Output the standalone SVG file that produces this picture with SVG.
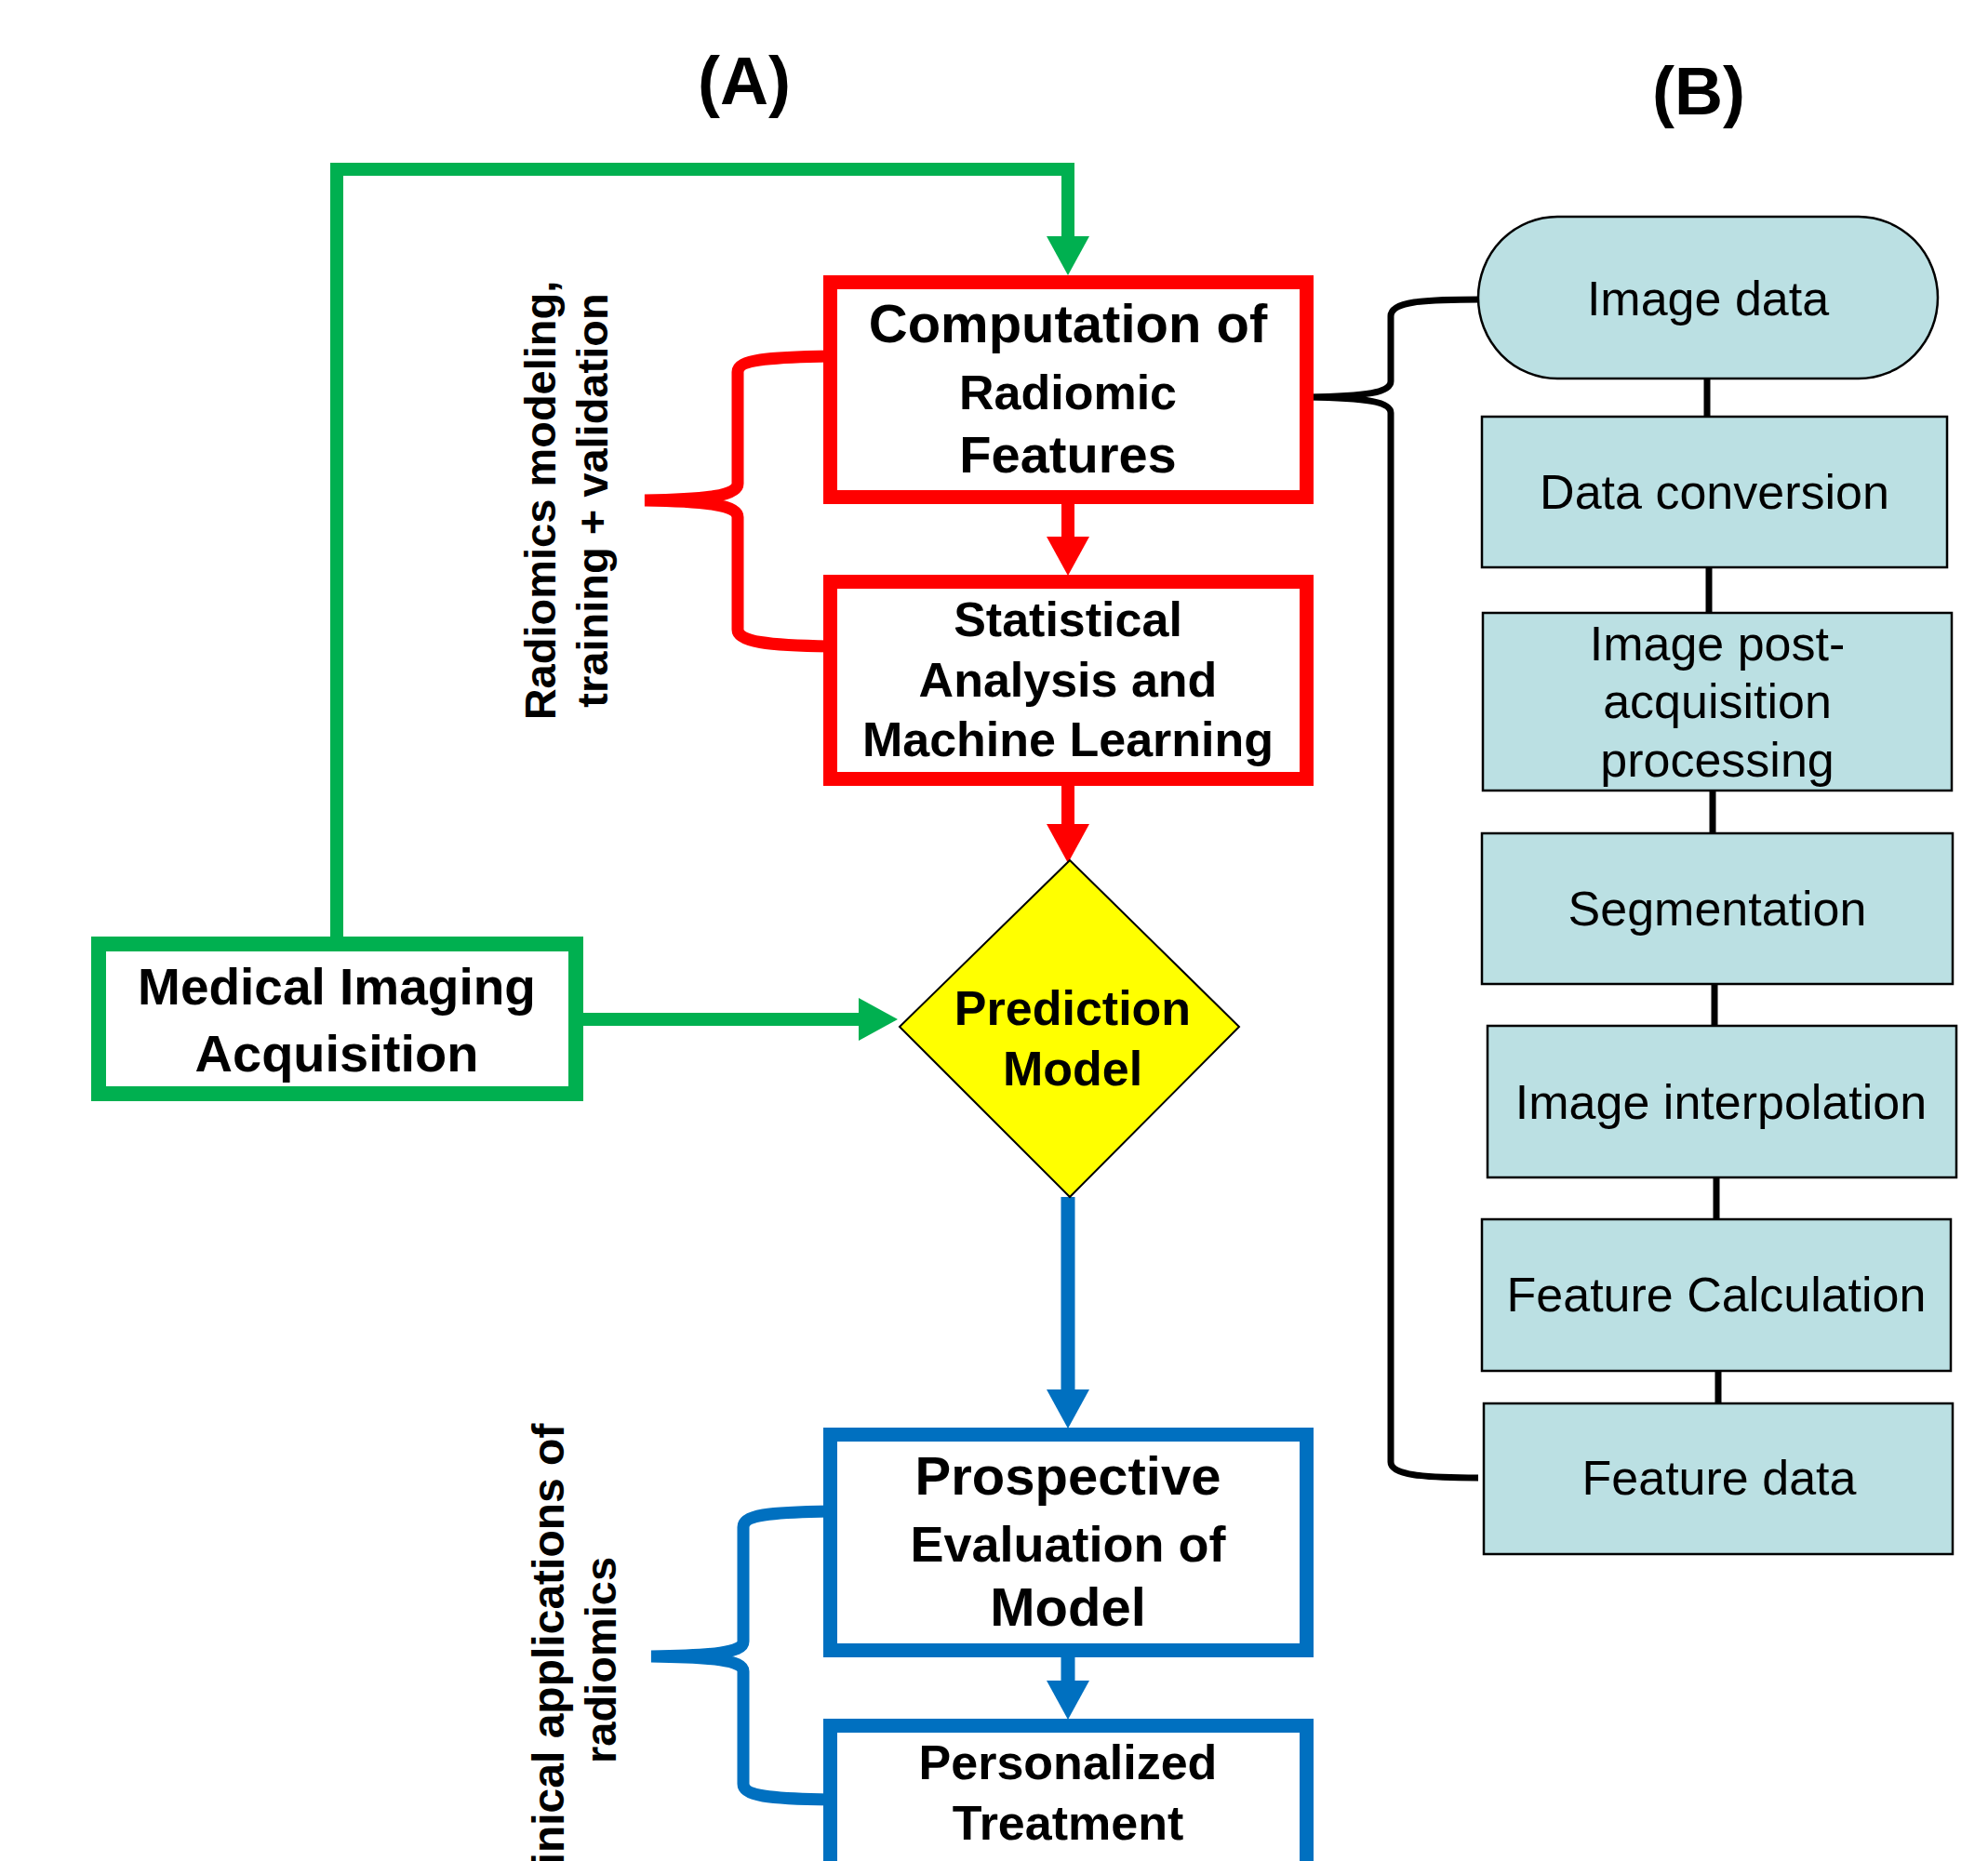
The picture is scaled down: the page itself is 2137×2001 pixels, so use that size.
<svg xmlns="http://www.w3.org/2000/svg" width="2137" height="2001" viewBox="0 0 2137 2001">
<style>
.bt{font-family:"Liberation Sans",Arial,sans-serif;font-weight:bold;text-anchor:middle;fill:#000}
.rt{font-family:"Liberation Sans",Arial,sans-serif;font-size:52px;text-anchor:middle;fill:#000}
.redbox{fill:#fff;stroke:#FF0000;stroke-width:15}
.bluebox{fill:#fff;stroke:#0070C0;stroke-width:15}
.greenbox{fill:#fff;stroke:#00B050;stroke-width:16}
.step{fill:#BBE0E3;stroke:#000;stroke-width:2.5}
.g{stroke:#00B050;stroke-width:14;fill:none;stroke-linejoin:miter}
.r{stroke:#FF0000;stroke-width:14;fill:none}
.b{stroke:#0070C0;stroke-width:15;fill:none}
.k{stroke:#000;stroke-width:7;fill:none}
.brace-r{stroke:#FF0000;stroke-width:13;fill:none;stroke-linecap:round}
.brace-b{stroke:#0070C0;stroke-width:13;fill:none;stroke-linecap:round}
</style>
<defs>
<marker id="ahg" markerUnits="userSpaceOnUse" viewBox="0 -25 50 50" refX="0" refY="0" markerWidth="50" markerHeight="50" orient="auto"><path d="M0,-23 L42,0 L0,23 Z" fill="#00B050"/></marker>
<marker id="ahr" markerUnits="userSpaceOnUse" viewBox="0 -25 50 50" refX="0" refY="0" markerWidth="50" markerHeight="50" orient="auto"><path d="M0,-23 L42,0 L0,23 Z" fill="#FF0000"/></marker>
<marker id="ahb" markerUnits="userSpaceOnUse" viewBox="0 -25 50 50" refX="0" refY="0" markerWidth="50" markerHeight="50" orient="auto"><path d="M0,-23 L42,0 L0,23 Z" fill="#0070C0"/></marker>
</defs>
<rect width="2137" height="2001" fill="#fff"/>

<g id="titles">
<text class="bt" x="800" y="112" font-size="72">(A)</text>
<text class="bt" x="1826" y="123" font-size="72">(B)</text>
</g>

<g id="connectors">
<path class="g" d="M362,1007 V182 H1148 V254" marker-end="url(#ahg)"/>
<path class="g" d="M627,1096 H923" marker-end="url(#ahg)"/>
<path class="r" d="M1148,542 V577" marker-end="url(#ahr)"/>
<path class="r" d="M1148,845 V886" marker-end="url(#ahr)"/>
<path class="b" d="M1148,1287 V1494" marker-end="url(#ahb)"/>
<path class="b" d="M1148,1782 V1807" marker-end="url(#ahb)"/>
<path class="brace-r" d="M892,383 C825,384 793,387 793,400 V520 C793,533 760,537 693,538 C760,539 793,543 793,556 V677 C793,690 825,694 892,695"/>
<path class="brace-b" d="M892,1625 C825,1626 799,1629 799,1642 V1765 C799,1777 766,1780 700,1781 C766,1782 799,1785 799,1797 V1918 C799,1931 825,1934 892,1935"/>
<path class="k" d="M1592,322 C1530,322 1495,324 1495,340 V410 C1495,422 1470,426 1405,427 C1470,428 1495,432 1495,444 V1572 C1495,1586 1530,1589 1589,1589"/>
<path class="k" d="M1835,407 V448"/>
<path class="k" d="M1837,610 V659"/>
<path class="k" d="M1841,850 V896"/>
<path class="k" d="M1843,1058 V1103"/>
<path class="k" d="M1845,1266 V1311"/>
<path class="k" d="M1847,1474 V1509"/>
</g>

<g id="labels">
<text class="bt" font-size="47" transform="translate(597,538) rotate(-90)">Radiomics modeling,</text>
<text class="bt" font-size="47" transform="translate(653,538) rotate(-90)">training + validation</text>
<text class="bt" font-size="48" transform="translate(606,1792) rotate(-90)">Clinical applications of</text>
<text class="bt" font-size="47" transform="translate(662,1785) rotate(-90)">radiomics</text>
</g>

<g id="computation">
<rect class="redbox" x="892.5" y="303.5" width="512" height="231"/>
<text class="bt" x="1148" y="368" font-size="58">Computation of</text>
<text class="bt" x="1148" y="440" font-size="52">Radiomic</text>
<text class="bt" x="1148" y="508" font-size="56">Features</text>
</g>

<g id="statistical">
<rect class="redbox" x="892.5" y="625.5" width="512" height="212"/>
<text class="bt" x="1148" y="684" font-size="52">Statistical</text>
<text class="bt" x="1148" y="749" font-size="52">Analysis and</text>
<text class="bt" x="1148" y="813" font-size="52">Machine Learning</text>
</g>

<g id="medical">
<rect class="greenbox" x="106" y="1015" width="513" height="161"/>
<text class="bt" x="362" y="1080" font-size="55">Medical Imaging</text>
<text class="bt" x="362" y="1152" font-size="56">Acquisition</text>
</g>

<g id="prediction">
<polygon points="1150,925 1332,1104 1150,1287 967,1104" fill="#FFFF00" stroke="#000" stroke-width="2"/>
<text class="bt" x="1153" y="1102" font-size="52">Prediction</text>
<text class="bt" x="1153" y="1167" font-size="52">Model</text>
</g>

<g id="prospective">
<rect class="bluebox" x="892.5" y="1542.5" width="512" height="232"/>
<text class="bt" x="1148" y="1607" font-size="58">Prospective</text>
<text class="bt" x="1148" y="1679" font-size="54">Evaluation of</text>
<text class="bt" x="1148" y="1748" font-size="58">Model</text>
</g>

<g id="personalized">
<rect class="bluebox" x="892.5" y="1855.5" width="512" height="240"/>
<text class="bt" x="1148" y="1913" font-size="52">Personalized</text>
<text class="bt" x="1148" y="1978" font-size="52">Treatment</text>
</g>

<g id="image-data">
<rect class="step" x="1589" y="233" width="494" height="174" rx="85" ry="87"/>
<text class="rt" x="1836" y="339">Image data</text>
</g>
<g id="data-conversion">
<rect class="step" x="1593" y="448" width="500" height="162"/>
<text class="rt" x="1843" y="547">Data conversion</text>
</g>
<g id="post-processing">
<rect class="step" x="1594" y="659" width="504" height="191"/>
<text class="rt" x="1846" y="710">Image post-</text>
<text class="rt" x="1846" y="772">acquisition</text>
<text class="rt" x="1846" y="835">processing</text>
</g>
<g id="segmentation">
<rect class="step" x="1593" y="896" width="506" height="162"/>
<text class="rt" x="1846" y="995">Segmentation</text>
</g>
<g id="interpolation">
<rect class="step" x="1599" y="1103" width="504" height="163"/>
<text class="rt" x="1850" y="1203">Image interpolation</text>
</g>
<g id="feature-calculation">
<rect class="step" x="1593" y="1311" width="504" height="163"/>
<text class="rt" x="1845" y="1410">Feature Calculation</text>
</g>
<g id="feature-data">
<rect class="step" x="1595" y="1509" width="504" height="162"/>
<text class="rt" x="1848" y="1607">Feature data</text>
</g>
</svg>
